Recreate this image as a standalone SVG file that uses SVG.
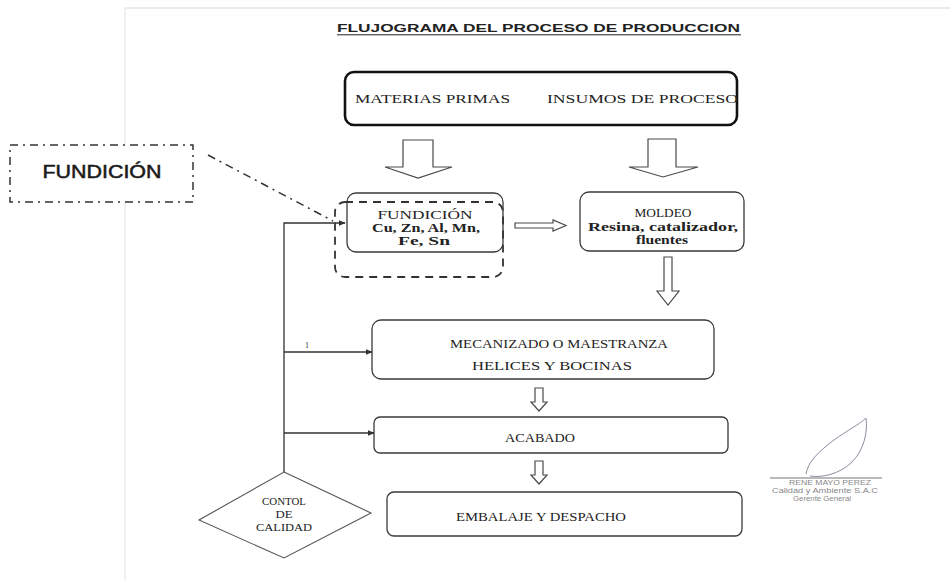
<svg xmlns="http://www.w3.org/2000/svg" width="950" height="581" viewBox="0 0 950 581">
<style>
.bx{fill:#fff;stroke:#3a3a3a;stroke-width:1.3}
.t{font-family:"Liberation Serif","Times New Roman",serif;fill:#222;font-size:11.5px;text-anchor:middle}
.td{font-family:"Liberation Serif","Times New Roman",serif;fill:#222;font-size:10.5px;text-anchor:middle}
.ba{fill:#fff;stroke:#4a4a4a;stroke-width:1.2}
.ln{fill:none;stroke:#333;stroke-width:1.3}
.sg{font-family:"Liberation Sans",Arial,sans-serif;fill:#888;font-size:6.5px;text-anchor:middle}
</style>
<defs>
<marker id="ah" viewBox="0 0 10 10" refX="9" refY="5" markerWidth="7" markerHeight="7" orient="auto" markerUnits="userSpaceOnUse">
<path d="M0,1 L10,5 L0,9 z" fill="#333"/>
</marker>
</defs>
<rect width="950" height="581" fill="#fff"/>
<line x1="125" y1="8" x2="950" y2="8" stroke="#d8d8d8" stroke-width="1.2"/>
<line x1="125" y1="8" x2="125" y2="581" stroke="#e6e6e6" stroke-width="1.2"/>

<g id="title">
<text x="337" y="32" font-family="'Liberation Sans',Arial,sans-serif" font-weight="bold" font-size="10.3" fill="#222" textLength="403" lengthAdjust="spacingAndGlyphs">FLUJOGRAMA DEL PROCESO DE PRODUCCION</text>
<line x1="337" y1="34.8" x2="741" y2="34.8" stroke="#222" stroke-width="1"/>
</g>

<g id="insumos">
<rect x="345" y="72" width="392" height="53" rx="9" fill="#fff" stroke="#111" stroke-width="2.6"/>
<text x="355" y="103" font-family="'Liberation Serif','Times New Roman',serif" font-size="12" fill="#222" textLength="155" lengthAdjust="spacingAndGlyphs">MATERIAS PRIMAS</text>
<text x="547" y="103" font-family="'Liberation Serif','Times New Roman',serif" font-size="12" fill="#222" textLength="191" lengthAdjust="spacingAndGlyphs">INSUMOS DE PROCESO</text>
</g>

<g id="fundicion-label">
<rect x="10" y="145" width="183" height="57" fill="#fff" stroke="#333" stroke-width="1.5" stroke-dasharray="8,5,2,5"/>
<text x="102" y="178" font-family="'Liberation Sans',Arial,sans-serif" font-size="18" fill="#1a1a1a" stroke="#1a1a1a" stroke-width="0.5" text-anchor="middle" textLength="119" lengthAdjust="spacingAndGlyphs">FUNDICIÓN</text>
</g>

<g id="fundicion">
<rect class="bx" x="347" y="193" width="156" height="59" rx="9"/>
<rect x="335" y="202" width="168" height="75" rx="10" fill="none" stroke="#333" stroke-width="1.8" stroke-dasharray="8,6"/>
<text class="t" x="425" y="219" textLength="95" lengthAdjust="spacingAndGlyphs">FUNDICIÓN</text>
<text class="t" x="426" y="232" font-weight="bold" fill="#333" textLength="108" lengthAdjust="spacingAndGlyphs">Cu, Zn, Al, Mn,</text>
<text class="t" x="424" y="245" font-weight="bold" fill="#333" textLength="52" lengthAdjust="spacingAndGlyphs">Fe, Sn</text>
</g>

<g id="moldeo">
<rect class="bx" x="580" y="192" width="164" height="59" rx="9"/>
<text class="t" x="663" y="217" textLength="57" lengthAdjust="spacingAndGlyphs">MOLDEO</text>
<text class="t" x="663" y="231" font-weight="bold" fill="#333" textLength="150" lengthAdjust="spacingAndGlyphs">Resina, catalizador,</text>
<text class="t" x="662" y="244" font-weight="bold" fill="#333" textLength="52" lengthAdjust="spacingAndGlyphs">fluentes</text>
</g>

<g id="mecanizado">
<rect class="bx" x="372" y="320" width="342" height="59" rx="9"/>
<text class="t" x="559" y="348" textLength="218" lengthAdjust="spacingAndGlyphs">MECANIZADO O MAESTRANZA</text>
<text class="t" x="552" y="370" textLength="160" lengthAdjust="spacingAndGlyphs">HELICES Y BOCINAS</text>
</g>

<g id="acabado">
<rect class="bx" x="374" y="417" width="354" height="36" rx="6"/>
<text class="t" x="540" y="442" textLength="70" lengthAdjust="spacingAndGlyphs">ACABADO</text>
</g>

<g id="embalaje">
<rect class="bx" x="387" y="492" width="355" height="44" rx="7"/>
<text class="t" x="541" y="521" textLength="170" lengthAdjust="spacingAndGlyphs">EMBALAJE Y DESPACHO</text>
</g>

<g id="control">
<polygon points="284,472 371,513 284,558 199,520" fill="#fff" stroke="#555" stroke-width="1.1"/>
<text class="td" x="284" y="505" textLength="44" lengthAdjust="spacingAndGlyphs">CONTOL</text>
<text class="td" x="284" y="518" textLength="17" lengthAdjust="spacingAndGlyphs">DE</text>
<text class="td" x="284" y="531" textLength="56" lengthAdjust="spacingAndGlyphs">CALIDAD</text>
</g>

<g id="connectors">
<polygon class="ba" points="403,140 433,140 433,167 452,167 418,178 385,167 403,167"/>
<polygon class="ba" points="648,139 676,139 676,167 698,167 663,177 629,167 648,167"/>
<polygon class="ba" points="515,223 553,223 553,220 566,225.5 553,231 553,228 515,228"/>
<polygon class="ba" points="664,257 672,257 672,291 679,291 668,305 657,291 664,291"/>
<polygon class="ba" points="535,388 543,388 543,402 547,402 539,411 531,402 535,402"/>
<polygon class="ba" points="535,461 543,461 543,475 547,475 539,484 531,475 535,475"/>
<polyline class="ln" points="284,472 284,223 345,223" marker-end="url(#ah)"/>
<line class="ln" x1="284" y1="352" x2="372" y2="352" marker-end="url(#ah)"/>
<line class="ln" x1="284" y1="433" x2="374" y2="433" marker-end="url(#ah)"/>
<text x="305" y="348" font-family="'Liberation Serif',serif" font-size="8" fill="#333">1</text>
<line x1="208" y1="155" x2="333" y2="221" stroke="#333" stroke-width="1.5" stroke-dasharray="8,5,2,5"/>
</g>

<g id="firma">
<path d="M806,474 C808,462 818,452 834,440 C848,430 860,424 866,418 C868,432 864,450 852,462 C840,474 822,478 810,476" fill="none" stroke="#8a8fa0" stroke-width="1"/>
<line x1="770" y1="478" x2="882" y2="478" stroke="#777" stroke-width="1"/>
<text class="sg" x="830" y="485" textLength="82" lengthAdjust="spacingAndGlyphs">RENE MAYO PEREZ</text>
<text class="sg" x="825" y="493" textLength="106" lengthAdjust="spacingAndGlyphs">Calidad y Ambiente S.A.C</text>
<text class="sg" x="822" y="501" font-size="6" textLength="58" lengthAdjust="spacingAndGlyphs">Gerente General</text>
</g>
</svg>
